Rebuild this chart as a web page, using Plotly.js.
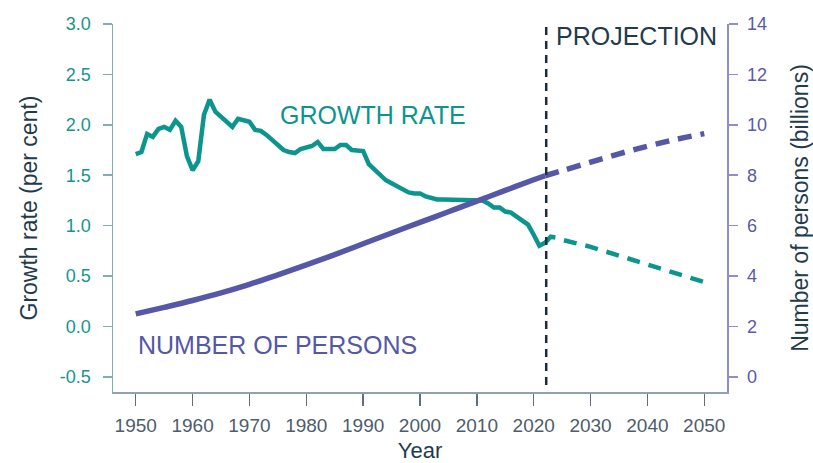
<!DOCTYPE html>
<html>
<head>
<meta charset="utf-8">
<script src="https://cdn.plot.ly/plotly-3.0.1.min.js"></script>
<style>html,body{margin:0;padding:0;background:#fff;}#chart{width:813px;height:463px;}</style>
</head>
<body>
<div id="chart"></div>
<script>
// Growth rate (per cent), estimates 1950-2022
const growthYears = [1950,1951,1952,1953,1954,1955,1956,1957,1958,1959,1960,1961,1962,1963,1964,1965,1966,1967,1968,1969,1970,1971,1972,1973,1974,1975,1976,1977,1978,1979,1980,1981,1982,1983,1984,1985,1986,1987,1988,1989,1990,1991,1992,1993,1994,1995,1996,1997,1998,1999,2000,2001,2002,2003,2004,2005,2006,2007,2008,2009,2010,2011,2012,2013,2014,2015,2016,2017,2018,2019,2020,2021,2022];
const growthRate = [1.71,1.73,1.91,1.88,1.96,1.98,1.95,2.04,1.98,1.69,1.55,1.64,2.10,2.25,2.13,2.08,2.03,1.98,2.06,2.04,2.03,1.95,1.94,1.90,1.85,1.79,1.75,1.73,1.72,1.76,1.77,1.79,1.83,1.76,1.76,1.76,1.80,1.80,1.75,1.74,1.74,1.61,1.56,1.51,1.45,1.42,1.39,1.36,1.33,1.32,1.32,1.29,1.27,1.26,1.26,1.26,1.26,1.26,1.26,1.25,1.25,1.25,1.22,1.18,1.18,1.14,1.13,1.09,1.05,1.01,0.91,0.80,0.83];
// Growth rate, projection
const growthProjYears = [2022,2023,2024,2025,2030,2035,2040,2045,2050];
const growthProj = [0.83,0.89,0.88,0.86,0.79,0.70,0.61,0.53,0.44];
// Number of persons (billions), estimates
const popYears = [1950,1955,1960,1965,1970,1975,1980,1985,1990,1995,2000,2005,2010,2015,2020,2022];
const population = [2.50,2.76,3.03,3.33,3.67,4.05,4.44,4.85,5.28,5.71,6.13,6.55,6.97,7.40,7.82,7.98];
// Number of persons (billions), projection
const popProjYears = [2022,2025,2030,2035,2040,2045,2050];
const popProj = [7.98,8.18,8.52,8.85,9.15,9.42,9.65];
const projectionStart = 2022.2;

// Tick labels
const xTicks = [1950,1960,1970,1980,1990,2000,2010,2020,2030,2040,2050];
const yLeftTicks = [-0.5,0,0.5,1,1.5,2,2.5,3];
const yLeftLabels = ["-0.5","0.0","0.5","1.0","1.5","2.0","2.5","3.0"];
const yRightTicks = [0,2,4,6,8,10,12,14];

const TEAL = "#0b958d";
const PURPLE = "#5557a7";
const DARK = "#1f3b4d";
const FONT = "Liberation Sans, Arial, sans-serif";

const traces = [
  {x: popYears, y: population, yaxis: "y2", mode: "lines", line: {color: PURPLE, width: 5.5, shape: "spline", smoothing: 1}, hoverinfo: "skip", name: "Number of persons"},
  {x: popProjYears, y: popProj, yaxis: "y2", mode: "lines", line: {color: PURPLE, width: 5.5, dash: "14px,9px", shape: "spline", smoothing: 1}, hoverinfo: "skip", name: "Number of persons (projection)"},
  {x: growthYears, y: growthRate, yaxis: "y", mode: "lines", line: {color: TEAL, width: 4.5}, hoverinfo: "skip", name: "Growth rate"},
  {x: growthProjYears, y: growthProj, yaxis: "y", mode: "lines", line: {color: TEAL, width: 4.5, dash: "13px,9px"}, hoverinfo: "skip", name: "Growth rate (projection)"}
];

const layout = {
  width: 813, height: 463,
  margin: {l: 113, r: 86, t: 24, b: 71, pad: 0},
  paper_bgcolor: "#fff", plot_bgcolor: "#fff",
  showlegend: false,
  font: {family: FONT},
  xaxis: {
    range: [1946, 2054], tickvals: xTicks, ticks: "outside", ticklen: 12, tickwidth: 1.5, tickcolor: "#5f6f7f",
    showline: true, linecolor: "#8fa4aa", linewidth: 1.5, showgrid: false, zeroline: false,
    tickfont: {size: 19, color: "#4e5d6c", family: FONT}, ticklabelstandoff: 4,
    title: {text: "Year", font: {size: 22, color: DARK, family: FONT}, standoff: 25}
  },
  yaxis: {
    range: [-0.65, 3.0], tickvals: yLeftTicks, ticktext: yLeftLabels, ticks: "outside", ticklen: 9, tickwidth: 1.5, tickcolor: "#7fb0b0",
    showline: true, linecolor: "#7fb0b0", linewidth: 1.5, showgrid: false, zeroline: false,
    tickfont: {size: 18, color: "#15958d", family: FONT}, ticklabelstandoff: 8,
    title: {text: "Growth rate (per cent)", font: {size: 23, color: DARK, family: FONT}, standoff: 16}
  },
  yaxis2: {
    range: [-0.6, 14], overlaying: "y", side: "right", tickvals: yRightTicks, ticks: "outside", ticklen: 9, tickwidth: 1.5, tickcolor: "#8f8dca",
    showline: true, linecolor: "#8f8dca", linewidth: 1.5, showgrid: false, zeroline: false,
    tickfont: {size: 18, color: "#5a5aa8", family: FONT}, ticklabelstandoff: 6,
    title: {text: "Number of persons (billions)", font: {size: 23, color: DARK, family: FONT}, standoff: 27}
  },
  shapes: [
    {type: "line", xref: "x", yref: "paper", x0: projectionStart, x1: projectionStart, y0: 0.019, y1: 1,
     line: {color: "#1e2d3d", width: 2.5, dash: "8px,6px"}}
  ],
  annotations: [
    {text: "PROJECTION", xref: "x", yref: "paper", x: 2023.5, y: 0.967, xanchor: "left", yanchor: "middle", showarrow: false,
     font: {size: 25, color: DARK, family: FONT}},
    {text: "GROWTH RATE", xref: "x", yref: "y", x: 1975.1, y: 2.095, xanchor: "left", yanchor: "middle", showarrow: false,
     font: {size: 25, color: TEAL, family: FONT}},
    {text: "NUMBER OF PERSONS", xref: "x", yref: "y", x: 1950.1, y: -0.18, xanchor: "left", yanchor: "middle", showarrow: false,
     font: {size: 25, color: PURPLE, family: FONT}}
  ]
};

Plotly.newPlot("chart", traces, layout, {staticPlot: true, displayModeBar: false});
</script>
</body>
</html>
